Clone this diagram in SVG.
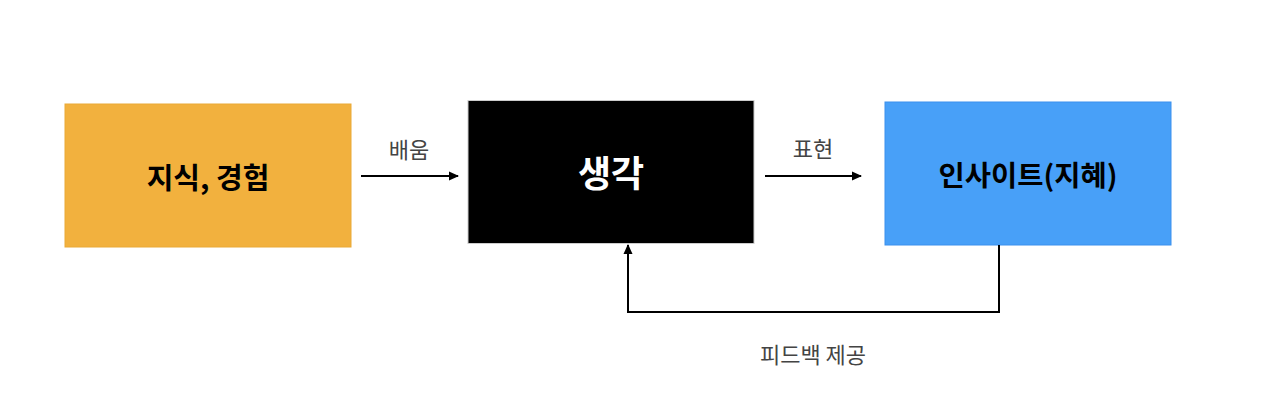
<svg xmlns="http://www.w3.org/2000/svg" width="1280" height="406" viewBox="0 0 1280 406">
<style>
.node-text{font-family:"Noto Sans CJK KR","Noto Sans",sans-serif;font-weight:bold;text-anchor:middle;dominant-baseline:central}
.label{font-family:"Noto Sans CJK KR","Noto Sans",sans-serif;font-size:22px;fill:#444;text-anchor:middle;dominant-baseline:central}
.conn{fill:none;stroke:#000;stroke-width:2}
</style>
<defs>
<marker id="arrow" markerWidth="10" markerHeight="10" refX="9" refY="5" orient="auto" markerUnits="userSpaceOnUse">
<path d="M0,0.5 L10,5 L0,9.5 Z" fill="#000"/>
</marker>
</defs>
<rect width="1280" height="406" fill="#fff"/>
<g id="node-knowledge">
<rect x="65" y="104" width="286" height="143" fill="#F2B13E" stroke="#EAA936" stroke-width="1"/>
<text class="node-text" x="208" y="176" font-size="29" fill="#000">지식, 경험</text>
</g>
<g id="node-thought">
<rect x="468" y="100.5" width="286" height="143" fill="#000" stroke="#ccc" stroke-width="1"/>
<text class="node-text" x="611" y="171" font-size="36" fill="#fff">생각</text>
</g>
<g id="node-insight">
<rect x="885" y="102" width="286" height="143" fill="#48A0F8" stroke="#3A90EE" stroke-width="1"/>
<text class="node-text" x="1028" y="173" font-size="28.5" fill="#000">인사이트(지혜)</text>
</g>
<g id="connectors">
<line class="conn" x1="361" y1="176" x2="458" y2="176" marker-end="url(#arrow)"/>
<line class="conn" x1="765" y1="176" x2="861" y2="176" marker-end="url(#arrow)"/>
<polyline class="conn" points="999,245 999,312 628,312 628,245" marker-end="url(#arrow)"/>
<text class="label" x="409" y="148">배움</text>
<text class="label" x="813" y="147">표현</text>
<text class="label" x="813" y="353">피드백 제공</text>
</g>
</svg>
